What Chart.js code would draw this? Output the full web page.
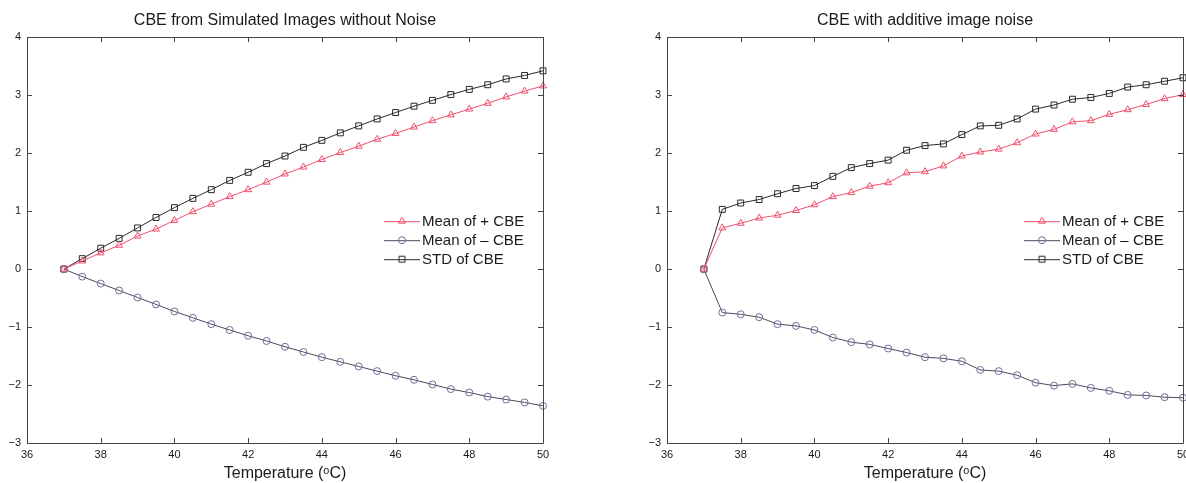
<!DOCTYPE html>
<html>
<head>
<meta charset="utf-8">
<title>CBE vs temperature</title>
<script src="https://cdn.jsdelivr.net/npm/chart.js@4.4.0/dist/chart.umd.min.js"></script>
<style>
  html, body { margin: 0; padding: 0; background: #fff; overflow: hidden; }
  .panel { position: absolute; top: 0; }
  #left-panel { left: 0; }
  #right-panel { left: 640px; }
</style>
</head>
<body>
<div class="panel" id="left-panel"><canvas id="clean-chart" width="560" height="483"></canvas></div>
<div class="panel" id="right-panel"><canvas id="noisy-chart" width="560" height="483"></canvas></div>
<script>
// temperatures (deg C), one sample every half degree
const temperatures = [37, 37.5, 38, 38.5, 39, 39.5, 40, 40.5, 41, 41.5, 42, 42.5, 43, 43.5,
    44, 44.5, 45, 45.5, 46, 46.5, 47, 47.5, 48, 48.5, 49, 49.5, 50];

// tick labels for both panels
const xTicks = [36, 38, 40, 42, 44, 46, 48, 50];
const yTicks = [-3, -2, -1, 0, 1, 2, 3, 4];

const seriesNames = ['Mean of + CBE', 'Mean of \u2013 CBE', 'STD of CBE'];

// left panel: simulated images without noise
const cleanPlus = [0, 0.14, 0.28, 0.41, 0.57, 0.69, 0.84, 0.99, 1.12, 1.25, 1.37, 1.50, 1.64, 1.76,
    1.89, 2.01, 2.12, 2.24, 2.34, 2.45, 2.56, 2.66, 2.76, 2.86, 2.97, 3.07, 3.16];
const cleanMinus = [0, -0.13, -0.25, -0.37, -0.49, -0.61, -0.73, -0.84, -0.95, -1.05, -1.15, -1.24, -1.34, -1.43,
    -1.52, -1.60, -1.68, -1.76, -1.84, -1.91, -1.99, -2.07, -2.13, -2.20, -2.25, -2.30, -2.36];
const cleanStd = [0, 0.18, 0.36, 0.53, 0.71, 0.89, 1.06, 1.22, 1.37, 1.53, 1.67, 1.82, 1.95, 2.10,
    2.22, 2.35, 2.47, 2.59, 2.70, 2.81, 2.91, 3.01, 3.10, 3.18, 3.28, 3.34, 3.42];

// right panel: with additive image noise
const noisyPlus = [0, 0.71, 0.79, 0.88, 0.93, 1.01, 1.11, 1.25, 1.32, 1.43, 1.49, 1.66, 1.68, 1.78,
    1.95, 2.02, 2.07, 2.18, 2.33, 2.41, 2.54, 2.56, 2.67, 2.75, 2.84, 2.94, 3.01];
const noisyMinus = [0, -0.75, -0.78, -0.83, -0.95, -0.98, -1.05, -1.18, -1.26, -1.30, -1.37, -1.44, -1.52, -1.54,
    -1.59, -1.74, -1.76, -1.83, -1.96, -2.01, -1.98, -2.05, -2.10, -2.17, -2.18, -2.21, -2.22];
const noisyStd = [0, 1.03, 1.14, 1.20, 1.30, 1.39, 1.44, 1.60, 1.75, 1.82, 1.88, 2.05, 2.13, 2.16,
    2.32, 2.47, 2.48, 2.59, 2.76, 2.83, 2.93, 2.96, 3.03, 3.14, 3.18, 3.24, 3.30];

const FONT = '"Liberation Sans", Arial, "DejaVu Sans", sans-serif';
const TEXT = '#1a1a1a';

Chart.defaults.font.family = FONT;
Chart.defaults.color = TEXT;

// matlab style box with inward tick marks on all four sides
const framePlugin = {
    id: 'frame',
    afterDraw(chart) {
        const { ctx, chartArea: a, scales } = chart;
        const len = 5;
        ctx.save();
        ctx.strokeStyle = '#444';
        ctx.lineWidth = 1;
        ctx.beginPath();
        ctx.rect(Math.round(a.left) + 0.5, Math.round(a.top) + 0.5,
            Math.round(a.right - a.left), Math.round(a.bottom - a.top));
        scales.x.ticks.forEach(t => {
            const px = Math.round(scales.x.getPixelForValue(t.value)) + 0.5;
            ctx.moveTo(px, a.bottom); ctx.lineTo(px, a.bottom - len);
            ctx.moveTo(px, a.top); ctx.lineTo(px, a.top + len);
        });
        scales.y.ticks.forEach(t => {
            const py = Math.round(scales.y.getPixelForValue(t.value)) + 0.5;
            ctx.moveTo(a.left, py); ctx.lineTo(a.left + len, py);
            ctx.moveTo(a.right, py); ctx.lineTo(a.right - len, py);
        });
        ctx.stroke();
        ctx.restore();
    }
};

// legend with no box, sitting inside the plot on the right
const innerLegendPlugin = {
    id: 'innerLegend',
    afterDraw(chart) {
        const { ctx, chartArea: a } = chart;
        const startX = a.right - 159;
        const sampleLen = 36;
        const rowGap = 19;
        let y = a.top + 184;
        ctx.save();
        chart.data.datasets.forEach(ds => {
            ctx.strokeStyle = ds.borderColor;
            ctx.lineWidth = 1;
            ctx.beginPath();
            ctx.moveTo(startX, y + 0.5);
            ctx.lineTo(startX + sampleLen, y + 0.5);
            ctx.stroke();
            // hollow marker in the middle of the sample line
            ctx.strokeStyle = ds.pointBorderColor;
            ctx.fillStyle = 'rgba(255,255,255,0)';
            Chart.helpers.drawPoint(ctx, {
                pointStyle: ds.pointStyle,
                radius: ds.pointRadius,
                rotation: 0,
                borderWidth: 1
            }, startX + sampleLen / 2, y);
            ctx.fillStyle = TEXT;
            ctx.font = '15px ' + FONT;
            ctx.textBaseline = 'middle';
            ctx.textAlign = 'left';
            ctx.fillText(ds.label, startX + sampleLen + 2, y + 1);
            y += rowGap;
        });
        ctx.restore();
    }
};

function pairs(values) {
    return temperatures.map((t, i) => ({ x: t, y: values[i] }));
}

function makeDatasets(plus, minus, std) {
    return [
        {
            label: seriesNames[0],
            data: pairs(plus),
            borderColor: '#f0506e',
            pointBorderColor: '#f0506e',
            pointBackgroundColor: 'rgba(255,255,255,0)',
            pointStyle: 'triangle',
            pointRadius: 4,
            borderWidth: 1,
            clip: false
        },
        {
            label: seriesNames[1],
            data: pairs(minus),
            borderColor: '#4a4a5a',
            pointBorderColor: '#6e6e9e',
            pointBackgroundColor: 'rgba(255,255,255,0)',
            pointStyle: 'circle',
            pointRadius: 3.5,
            borderWidth: 1,
            clip: false
        },
        {
            label: seriesNames[2],
            data: pairs(std),
            borderColor: '#2a2a2a',
            pointBorderColor: '#2a2a2a',
            pointBackgroundColor: 'rgba(255,255,255,0)',
            pointStyle: 'rect',
            pointRadius: 4.2,
            borderWidth: 1,
            clip: false
        }
    ];
}

function makeOptions(title) {
    return {
        responsive: false,
        animation: false,
        events: [],
        layout: { padding: { left: 0, right: 17, top: 0, bottom: 0 } },
        plugins: {
            legend: { display: false },
            tooltip: { enabled: false },
            title: {
                display: true,
                // only as wide as the plot box, so it centres over it
                fullSize: false,
                text: title,
                color: TEXT,
                font: { size: 16, weight: 'normal' },
                padding: { top: 11, bottom: 7 }
            }
        },
        scales: {
            x: {
                type: 'linear',
                min: 36,
                max: 50,
                afterBuildTicks: s => { s.ticks = xTicks.map(v => ({ value: v })); },
                afterFit: s => { s.height = 40; },
                grid: { display: false, drawTicks: false },
                border: { display: false },
                ticks: { font: { size: 11 }, color: TEXT, padding: 5, maxRotation: 0 },
                title: {
                    display: true,
                    text: 'Temperature (\u1D52C)',
                    color: TEXT,
                    font: { size: 16 },
                    padding: { top: 0, bottom: 0 }
                }
            },
            y: {
                min: -3,
                max: 4,
                afterBuildTicks: s => { s.ticks = yTicks.map(v => ({ value: v })); },
                afterFit: s => { s.width = 27; },
                grid: { display: false, drawTicks: false },
                border: { display: false },
                ticks: {
                    font: { size: 11 },
                    color: TEXT,
                    padding: 6,
                    callback: v => String(v).replace('-', '\u2212')
                }
            }
        }
    };
}

const cleanChart = new Chart(document.getElementById('clean-chart').getContext('2d'), {
    type: 'line',
    data: { datasets: makeDatasets(cleanPlus, cleanMinus, cleanStd) },
    options: makeOptions('CBE from Simulated Images without Noise'),
    plugins: [framePlugin, innerLegendPlugin]
});

const noisyChart = new Chart(document.getElementById('noisy-chart').getContext('2d'), {
    type: 'line',
    data: { datasets: makeDatasets(noisyPlus, noisyMinus, noisyStd) },
    options: makeOptions('CBE with additive image noise'),
    plugins: [framePlugin, innerLegendPlugin]
});
</script>
</body>
</html>
